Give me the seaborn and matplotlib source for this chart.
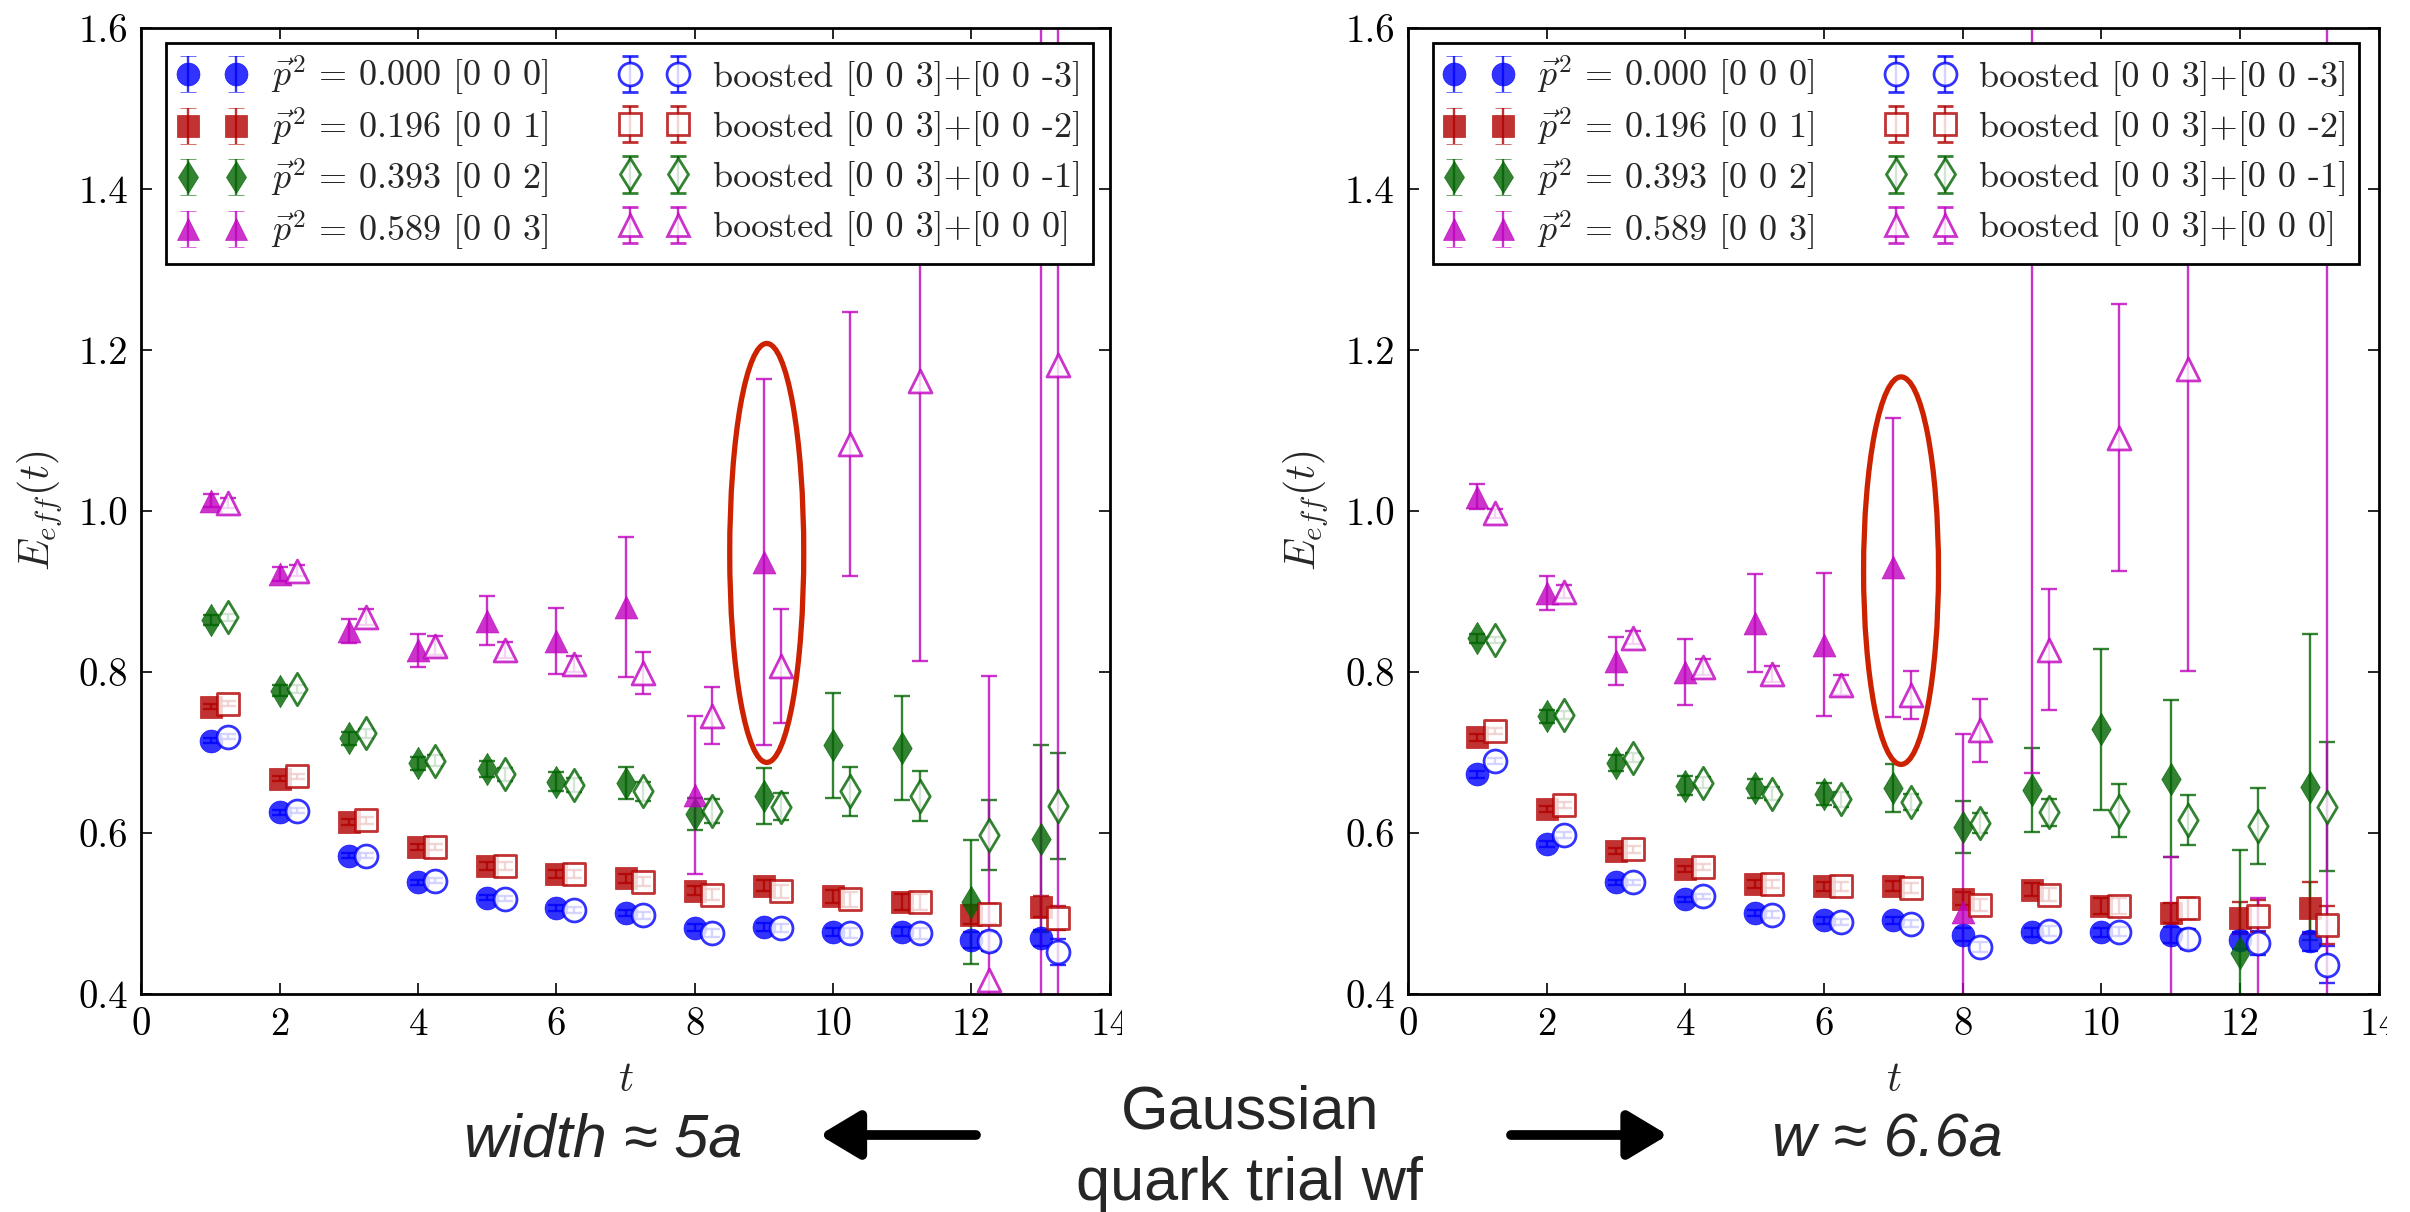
import numpy as np
import matplotlib
matplotlib.use("Agg")
import matplotlib.pyplot as plt
from matplotlib.patches import Ellipse
from matplotlib.transforms import Bbox, TransformedBbox
import seaborn as sns

nan = np.nan

# ---------------- data ----------------
t_vals = list(range(1, 14))
open_shift = 0.25
x_ticks = [0, 2, 4, 6, 8, 10, 12, 14]
y_ticks = [0.4, 0.6, 0.8, 1.0, 1.2, 1.4, 1.6]

series_keys = ["p0", "p1", "p2", "p3", "b3", "b2", "b1", "b0"]
series_labels = [
    r"$\vec{p}^2\,=\,0.000$ [0 0 0]",
    r"$\vec{p}^2\,=\,0.196$ [0 0 1]",
    r"$\vec{p}^2\,=\,0.393$ [0 0 2]",
    r"$\vec{p}^2\,=\,0.589$ [0 0 3]",
    "boosted [0 0 3]+[0 0 -3]",
    "boosted [0 0 3]+[0 0 -2]",
    "boosted [0 0 3]+[0 0 -1]",
    "boosted [0 0 3]+[0 0 0]",
]

# left panel: width ~ 5a
w5_p0 = [0.715, 0.626, 0.572, 0.539, 0.520, 0.507, 0.501, 0.483, 0.484, 0.478, 0.478, 0.468, 0.470]
w5_p0_err = [0.003, 0.003, 0.003, 0.003, 0.003, 0.004, 0.004, 0.004, 0.005, 0.005, 0.006, 0.010, 0.010]
w5_p1 = [0.757, 0.668, 0.614, 0.583, 0.560, 0.549, 0.544, 0.529, 0.535, 0.522, 0.515, 0.499, 0.509]
w5_p1_err = [0.003, 0.003, 0.004, 0.004, 0.005, 0.005, 0.006, 0.006, 0.007, 0.008, 0.010, 0.012, 0.013]
w5_p2 = [0.865, 0.777, 0.718, 0.687, 0.680, 0.664, 0.662, 0.624, 0.646, 0.709, 0.706, 0.515, 0.593]
w5_p2_err = [0.006, 0.007, 0.008, 0.008, 0.010, 0.012, 0.020, 0.020, 0.035, 0.065, 0.065, 0.077, 0.116]
w5_p3 = [1.013, 0.922, 0.851, 0.827, 0.864, 0.839, 0.881, 0.648, 0.937, nan, nan, nan, 1.45]
w5_p3_err = [0.008, 0.009, 0.015, 0.020, 0.030, 0.041, 0.087, 0.098, 0.227, nan, nan, nan, 1.2]
w5_b3 = [0.720, 0.628, 0.572, 0.541, 0.519, 0.505, 0.498, 0.476, 0.482, 0.476, 0.476, 0.466, 0.453]
w5_b3_err = [0.003, 0.003, 0.003, 0.003, 0.003, 0.004, 0.004, 0.005, 0.005, 0.006, 0.007, 0.012, 0.016]
w5_b2 = [0.761, 0.671, 0.616, 0.583, 0.560, 0.549, 0.540, 0.524, 0.528, 0.518, 0.515, 0.500, 0.495]
w5_b2_err = [0.003, 0.003, 0.004, 0.004, 0.005, 0.005, 0.006, 0.007, 0.008, 0.009, 0.010, 0.012, 0.015]
w5_b1 = [0.868, 0.779, 0.724, 0.690, 0.673, 0.660, 0.652, 0.628, 0.633, 0.652, 0.646, 0.598, 0.634]
w5_b1_err = [0.004, 0.005, 0.006, 0.007, 0.008, 0.009, 0.012, 0.015, 0.017, 0.030, 0.031, 0.043, 0.066]
w5_b0 = [1.010, 0.926, 0.868, 0.833, 0.827, 0.810, 0.799, 0.746, 0.808, 1.083, 1.161, 0.418, 1.181]
w5_b0_err = [0.006, 0.007, 0.010, 0.012, 0.010, 0.010, 0.026, 0.035, 0.071, 0.164, 0.347, 0.377, 1.0]

# right panel: w ~ 6.6a
w66_p0 = [0.673, 0.587, 0.539, 0.518, 0.501, 0.492, 0.492, 0.474, 0.477, 0.477, 0.474, 0.467, 0.466]
w66_p0_err = [0.004, 0.004, 0.003, 0.003, 0.004, 0.004, 0.004, 0.008, 0.006, 0.006, 0.010, 0.010, 0.012]
w66_p1 = [0.719, 0.630, 0.578, 0.556, 0.537, 0.534, 0.535, 0.519, 0.530, 0.510, 0.501, 0.495, 0.507]
w66_p1_err = [0.004, 0.004, 0.004, 0.004, 0.005, 0.005, 0.006, 0.008, 0.008, 0.010, 0.012, 0.020, 0.032]
w66_p2 = [0.842, 0.745, 0.687, 0.659, 0.656, 0.649, 0.656, 0.608, 0.654, 0.729, 0.668, 0.451, 0.657]
w66_p2_err = [0.006, 0.008, 0.010, 0.012, 0.012, 0.014, 0.030, 0.032, 0.052, 0.100, 0.097, 0.128, 0.190]
w66_p3 = [1.018, 0.898, 0.814, 0.800, 0.861, 0.834, 0.930, 0.502, 1.45, nan, 0.20, nan, nan]
w66_p3_err = [0.015, 0.021, 0.030, 0.041, 0.061, 0.089, 0.186, 0.221, 0.775, nan, 0.37, nan, nan]
w66_b3 = [0.690, 0.598, 0.539, 0.522, 0.499, 0.490, 0.488, 0.459, 0.479, 0.478, 0.469, 0.464, 0.437]
w66_b3_err = [0.004, 0.004, 0.003, 0.003, 0.004, 0.004, 0.004, 0.006, 0.006, 0.006, 0.012, 0.015, 0.023]
w66_b2 = [0.727, 0.635, 0.580, 0.558, 0.537, 0.534, 0.532, 0.511, 0.524, 0.510, 0.507, 0.497, 0.486]
w66_b2_err = [0.004, 0.004, 0.004, 0.004, 0.005, 0.005, 0.006, 0.008, 0.008, 0.010, 0.013, 0.020, 0.024]
w66_b1 = [0.840, 0.747, 0.694, 0.663, 0.649, 0.642, 0.639, 0.613, 0.626, 0.628, 0.617, 0.609, 0.633]
w66_b1_err = [0.004, 0.005, 0.006, 0.007, 0.008, 0.009, 0.010, 0.012, 0.017, 0.033, 0.031, 0.047, 0.080]
w66_b0 = [0.997, 0.900, 0.843, 0.806, 0.798, 0.784, 0.772, 0.728, 0.828, 1.091, 1.176, 0.28, 1.45]
w66_b0_err = [0.006, 0.008, 0.008, 0.010, 0.010, 0.012, 0.030, 0.039, 0.075, 0.166, 0.374, 0.24, 1.3]

left_data = {
    "p0": (w5_p0, w5_p0_err), "p1": (w5_p1, w5_p1_err), "p2": (w5_p2, w5_p2_err), "p3": (w5_p3, w5_p3_err),
    "b3": (w5_b3, w5_b3_err), "b2": (w5_b2, w5_b2_err), "b1": (w5_b1, w5_b1_err), "b0": (w5_b0, w5_b0_err),
}
right_data = {
    "p0": (w66_p0, w66_p0_err), "p1": (w66_p1, w66_p1_err), "p2": (w66_p2, w66_p2_err), "p3": (w66_p3, w66_p3_err),
    "b3": (w66_b3, w66_b3_err), "b2": (w66_b2, w66_b2_err), "b1": (w66_b1, w66_b1_err), "b0": (w66_b0, w66_b0_err),
}

# annotation ellipses (data coords of the highlighted pair)
left_ellipse = (9.04, 0.948, 1.07, 0.52)
right_ellipse = (7.11, 0.926, 1.08, 0.481)

# ---------------- style ----------------
BLUE, RED, GREEN, MAG = "#0000ff", "#b20000", "#006400", "#bf00bf"
style = {
    "p0": ("o", BLUE, True), "p1": ("s", RED, True), "p2": ("d", GREEN, True), "p3": ("^", MAG, True),
    "b3": ("o", BLUE, False), "b2": ("s", RED, False), "b1": ("d", GREEN, False), "b0": ("^", MAG, False),
}

sns.set_theme(style="ticks")
plt.rcParams.update({
    "font.family": ["cmr10", "DejaVu Serif"],
    "mathtext.fontset": "cm",
    "axes.formatter.use_mathtext": True,
    "axes.unicode_minus": False,
    "axes.linewidth": 2.0,
    "axes.edgecolor": "black",
    "xtick.direction": "in", "ytick.direction": "in",
    "xtick.top": True, "ytick.right": True,
    "xtick.major.size": 8, "ytick.major.size": 8,
    "xtick.major.width": 1.2, "ytick.major.width": 1.2,
    "xtick.major.pad": 9.5, "ytick.major.pad": 9.5,
    "xtick.color": "black", "ytick.color": "black",
    "xtick.labelsize": 28, "ytick.labelsize": 28,
})

MS = 16.5
ALPHA = 0.8
LEG_FS = 26

fig = plt.figure(figsize=(24.1, 12.12), dpi=100)
axL = fig.add_axes([0.0587, 0.1795, 0.4018, 0.7977])
axR = fig.add_axes([0.5842, 0.1795, 0.4029, 0.7977])


def draw_panel(ax, data, ell):
    handles = []
    for key in series_keys:
        marker, col, filled = style[key]
        vals, errs = data[key]
        shift = 0.0 if filled else open_shift
        xs = np.array(t_vals, dtype=float) + shift
        ax.errorbar(xs, vals, yerr=errs, fmt="none", ecolor=col, elinewidth=1.7,
                    capsize=5.5, capthick=1.7, alpha=ALPHA, zorder=2)
        fc = col if filled else "white"
        sns.scatterplot(x=xs, y=vals, marker=marker, s=MS ** 2, color=col,
                        facecolor=fc, edgecolor=col, linewidth=2.0 if not filled else 0.5,
                        alpha=ALPHA, zorder=3, ax=ax, legend=False)
        h = ax.errorbar([nan], [nan], yerr=[nan], fmt=marker, ms=MS, color=col,
                        mfc=fc, mec=col, mew=2.0 if not filled else 0.5,
                        ecolor=col, elinewidth=1.7, capsize=5.5, capthick=1.7, alpha=ALPHA)
        handles.append(h)
    cx, cy, w, hgt = ell
    ax.add_patch(Ellipse((cx, cy), w, hgt, fill=False, ec="#cc2200", lw=3.8, zorder=5))
    ax.set_xlim(0, 14)
    ax.set_ylim(0.4, 1.6)
    ax.set_xticks(x_ticks)
    ax.set_xticklabels([str(v) for v in x_ticks])
    ax.set_yticks(y_ticks)
    ax.set_yticklabels([f"{v:.1f}" for v in y_ticks])
    ax.set_xlabel(r"$t$", fontsize=30, labelpad=13)
    ax.set_ylabel(r"$E_{eff}(t)$", fontsize=30, labelpad=10)
    for sp in ax.spines.values():
        sp.set_visible(True)
        sp.set_linewidth(2.0)
        sp.set_color("black")
    leg = ax.legend(handles, series_labels, loc="upper left", bbox_to_anchor=(0.0254, 0.984),
                    borderaxespad=0, ncol=2, numpoints=2, fontsize=LEG_FS, handlelength=1.95,
                    handletextpad=0.65, columnspacing=1.95, labelspacing=0.42, borderpad=0.3,
                    fancybox=False, framealpha=1, edgecolor="black")
    leg.get_frame().set_linewidth(2.0)
    leg.set_zorder(10)
    # equalise row pitch of the two legend columns (math labels are taller)
    try:
        cols = leg._legend_handle_box.get_children()
        cols[0].sep = 0.21 * LEG_FS
    except Exception:
        pass


draw_panel(axL, left_data, left_ellipse)
draw_panel(axR, right_data, right_ellipse)

# bottom annotations
fig.text(0.5187, 0.0693, "Gaussian", family="Liberation Sans", fontsize=44, ha="center", va="baseline")
fig.text(0.5183, 0.0099, "quark trial wf", family="Liberation Sans", fontsize=44, ha="center", va="baseline")
fig.text(0.2502, 0.0454, "width \u2248 5a", family="Liberation Sans", style="italic", fontsize=44,
         ha="center", va="baseline")
fig.text(0.783, 0.0454, "w \u2248 6.6a", family="Liberation Sans", style="italic", fontsize=44,
         ha="center", va="baseline")
arrow_y = 1212 - 1135
for x0, x1 in [(976, 819.5), (1511, 1668)]:
    fig.add_artist(matplotlib.patches.FancyArrowPatch(
        (x0, arrow_y), (x1, arrow_y), transform=None,
        arrowstyle=matplotlib.patches.ArrowStyle("-|>", head_length=0.6, head_width=0.36),
        mutation_scale=40, lw=7, color="black", shrinkA=0, shrinkB=0))

fig.canvas.draw()
for ax, cx in [(axL, 1.0127), (axR, 1.008)]:
    lab = ax.xaxis.get_major_ticks()[-1].label1
    lab.set_clip_on(True)
    lab.set_clip_box(TransformedBbox(Bbox([[-0.2, -0.5], [cx, 1.2]]), ax.transAxes))

fig.savefig("out.png", dpi=100)
